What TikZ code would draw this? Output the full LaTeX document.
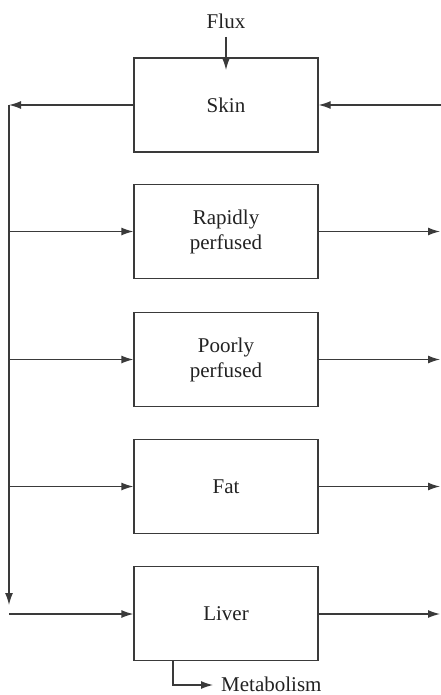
\documentclass[tikz,border=0pt]{standalone}
\usepackage{fontspec}
\setmainfont{Liberation Serif}
\usetikzlibrary{arrows.meta}

\definecolor{linegray}{HTML}{3A3A3A}
\definecolor{textgray}{HTML}{222222}

\begin{document}
\begin{tikzpicture}[x=1pt,y=-1pt,
  font=\fontsize{21}{25}\selectfont,
  compartment/.style={draw=linegray,line width=1.3pt,minimum width=184pt,
    minimum height=94pt,inner sep=0pt,align=center,text=textgray},
  label text/.style={inner sep=0pt,text=textgray},
  flow/.style={draw=linegray,line width=1.3pt,
    -{Latex[length=12pt,width=8pt]}}]

  \useasboundingbox (0,0) rectangle (441,695);

  % compartments
  \node [compartment] at (226,105) (skin) {Skin};
  \node [compartment] at (226,231.5) (rapid) {Rapidly\\perfused};
  \node [compartment] at (226,359.5) (poor) {Poorly\\perfused};
  \node [compartment] at (226,486.5) (fat) {Fat};
  \node [compartment] at (226,613.5) (liver) {Liver};

  \node [label text,anchor=base] at (226,29) (flux) {Flux};
  \node [label text,anchor=base west] at (221,691) (metab) {Metabolism};

  % venous side
  \coordinate (vtop) at (9,105);
  \coordinate (vbot) at (9,605);
  \coordinate (vcorner) at (9,614);
  \coordinate (vrapid) at (9,231.5);
  \coordinate (vpoor) at (9,359.5);
  \coordinate (vfat) at (9,486.5);

  % arterial side
  \coordinate (askin) at (441,105);
  \coordinate (arapid) at (440,231.5);
  \coordinate (apoor) at (440,359.5);
  \coordinate (afat) at (440,486.5);
  \coordinate (aliver) at (440,614);

  \coordinate (fluxtail) at (226,37);
  \coordinate (fluxtip) at (226,70);
  \coordinate (mcorner) at (173,685);
  \coordinate (mtip) at (213,685);

  \draw [flow] (fluxtail) -- (fluxtip);
  \draw [flow] (skin.west) -- (vtop);
  \draw [flow] (vtop) -- (vbot);
  \draw [flow] (vcorner) -- (liver.west |- vcorner);
  \draw [flow] (vrapid) -- (rapid.west);
  \draw [flow] (vpoor) -- (poor.west);
  \draw [flow] (vfat) -- (fat.west);

  \draw [flow] (askin) -- (skin.east);
  \draw [flow] (rapid.east) -- (arapid);
  \draw [flow] (poor.east) -- (apoor);
  \draw [flow] (fat.east) -- (afat);
  \draw [flow] (liver.east |- aliver) -- (aliver);

  \draw [flow] (liver.south -| mcorner) -- (mcorner) -- (mtip);

\end{tikzpicture}
\end{document}
